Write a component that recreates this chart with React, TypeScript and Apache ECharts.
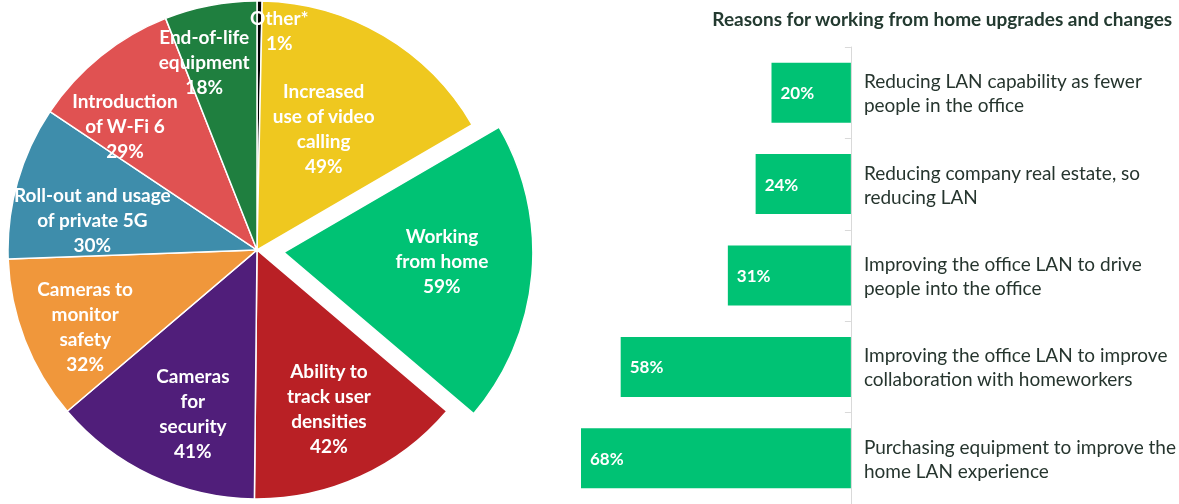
import React, { useEffect, useRef } from "react";
import * as echarts from "echarts";

const pieNames = [
  "Other*",
  "Increased\nuse of video\ncalling",
  "Working\nfrom home",
  "Ability to\ntrack user\ndensities",
  "Cameras\nfor\nsecurity",
  "Cameras to\nmonitor\nsafety",
  "Roll-out and usage\nof private 5G",
  "Introduction\nof W-Fi 6",
  "End-of-life\nequipment",
];
const pieValues = [1, 49, 59, 42, 41, 32, 30, 29, 18];
const pieColors = ["#000000", "#EFC81F", "#00C274", "#B92025", "#501E7A", "#F0973B", "#3E8DAB", "#E05252", "#1F7F3F"];
// label nudges relative to the default inside position
const pieLabelNudge = [
  [21, -93],
  [2, -12],
  [31, -3],
  [19, 42],
  [-10, 48],
  [-53, 30],
  [-42, 4],
  [-52, -25],
  [-29, -63],
];

const barCategories = [
  "Reducing LAN capability as fewer\npeople in the office",
  "Reducing company real estate, so\nreducing LAN",
  "Improving the office LAN to drive\npeople into the office",
  "Improving the office LAN to improve\ncollaboration with homeworkers",
  "Purchasing equipment to improve the\nhome LAN experience",
];
const barValues = [20, 24, 31, 58, 68];

const FONT = "Lato";

export default function App() {
  const ref = useRef<HTMLDivElement>(null);
  useEffect(() => {
    if (!ref.current) return;
    const chart = echarts.init(ref.current, undefined, { renderer: "svg" });
    chart.setOption({
      animation: false,
      textStyle: { fontFamily: FONT },
      title: {
        text: "Reasons for working from home upgrades and changes",
        right: 1,
        top: 4,
        textStyle: { fontFamily: FONT, fontSize: 19, fontWeight: "bold", color: "#233A30" },
      },
      grid: { left: 454, right: 328, top: 47, bottom: -3 },
      xAxis: { type: "value", inverse: true, min: 0, max: 100, show: false },
      yAxis: {
        type: "category",
        data: barCategories,
        inverse: true,
        position: "right",
        axisLine: { show: true, lineStyle: { color: "#D9D9D9", width: 1 } },
        axisTick: { show: true, inside: true, length: 6, lineStyle: { color: "#D9D9D9" } },
        axisLabel: { color: "#26352E", fontSize: 19, lineHeight: 24, margin: 13, align: "left", fontFamily: FONT },
        splitLine: { show: false },
      },
      series: [
        {
          type: "pie",
          center: [257, 250],
          radius: 249,
          startAngle: 90,
          clockwise: true,
          selectedMode: "single",
          selectedOffset: 27,
          avoidLabelOverlap: false,
          itemStyle: { borderColor: "#ffffff", borderWidth: 1.5 },
          label: {
            show: true,
            position: "inside",
            formatter: (p: any) => `${p.name}\n${p.value}%`,
            color: "#ffffff",
            fontWeight: "bold",
            fontSize: 19,
            lineHeight: 25,
            fontFamily: FONT,
          },
          labelLine: { show: false },
          labelLayout: (p: any) => ({ dx: pieLabelNudge[p.dataIndex][0], dy: pieLabelNudge[p.dataIndex][1] }),
          emphasis: { disabled: true },
          data: pieNames.map((n, i) => ({
            name: n,
            value: pieValues[i],
            selected: i === 2,
            itemStyle: { color: pieColors[i] },
          })),
        },
        {
          type: "bar",
          data: barValues,
          barWidth: 60,
          itemStyle: { color: "#00C274" },
          label: {
            show: true,
            position: "insideLeft",
            distance: 9,
            formatter: "{c}%",
            color: "#ffffff",
            fontWeight: "bold",
            fontSize: 17,
            fontFamily: FONT,
          },
          emphasis: { disabled: true },
        },
      ],
    });
    return () => chart.dispose();
  }, []);
  return <div ref={ref} style={{ position: "fixed", left: 0, top: 0, width: 1179, height: 504 }} />;
}
